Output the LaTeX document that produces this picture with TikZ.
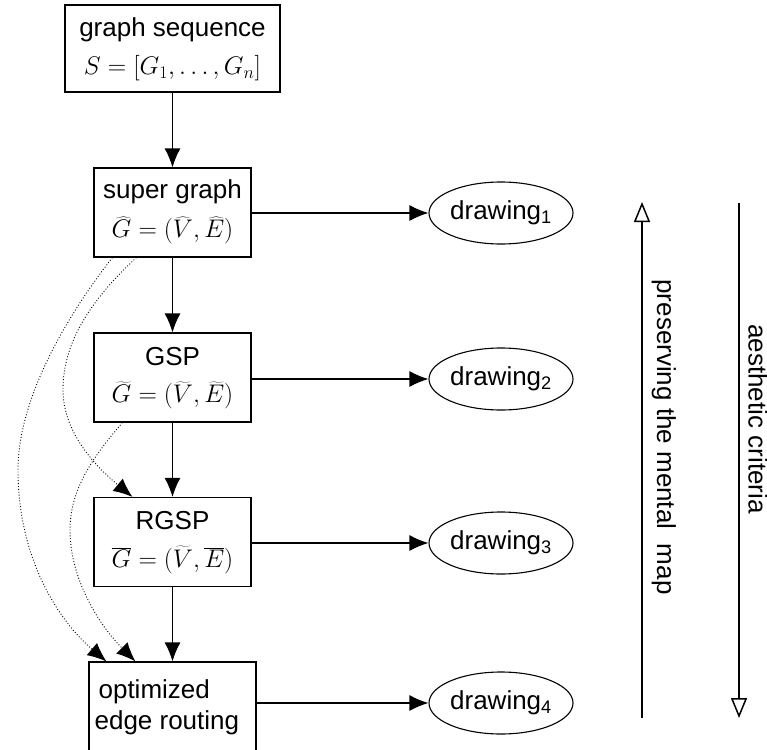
\RequirePackage{fix-cm}
\documentclass[tikz,border=0pt]{standalone}
\usepackage{fontspec}
\setmainfont{Liberation Sans}
\usetikzlibrary{arrows.meta,shapes.geometric,calc}

\begin{document}
\begin{tikzpicture}[x=1pt,y=-1pt,
  every node/.style={font=\fontsize{26}{31}\selectfont},
  box/.style={draw, line width=1.2pt, inner sep=0pt,
              minimum width=157pt, minimum height=89pt},
  drawnode/.style={draw, ellipse, line width=1.1pt, inner sep=0pt,
                   minimum width=144pt, minimum height=62pt},
  lbl/.style={inner sep=0pt, anchor=center},
  mathlbl/.style={inner sep=0pt, anchor=center, font=\fontsize{25.5}{30}\selectfont},
  flow/.style={line width=1.2pt, -{Latex[length=19pt,width=16pt]}},
  hint/.style={line width=0.9pt, dotted, -{Latex[length=19pt,width=16pt]}},
  side/.style={line width=1.3pt, -{Triangle[open,length=20pt,width=16pt,line width=1.5pt]}}
]
\useasboundingbox (0,0) rectangle (767,749);

% pipeline boxes
\node[box, minimum width=215pt, minimum height=87pt] (seq) at (172.5,48.5) {};
\node[box] (sg)   at (172.5,212.5) {};
\node[box] (gsp)  at (172.5,377.5) {};
\node[box] (rgsp) at (172.5,542) {};
\node[box, minimum width=167pt] (oer) at (172.5,706.5) {};

% box contents
\node[lbl] (seqa) at ($(seq.north)+(0,25)$) {graph sequence};
\node[mathlbl] (seqb) at ($(seq.north)+(0,64)$) {$S=[G_1,\ldots,G_n]$};
\node[lbl] (sga) at ($(sg.north)+(0,24)$) {super graph};
\node[mathlbl] (sgb) at ($(sg.north)+(0,63)$) {$\widehat{G}=(\widehat{V},\widehat{E})$};
\node[lbl] (gspa) at ($(gsp.north)+(0,24)$) {GSP};
\node[mathlbl] (gspb) at ($(gsp.north)+(0,63)$) {$\widetilde{G}=(\widetilde{V},\widetilde{E})$};
\node[lbl] (rgspa) at ($(rgsp.north)+(0,24)$) {RGSP};
\node[mathlbl] (rgspb) at ($(rgsp.north)+(0,63)$) {$\overline{G}=(\widetilde{V},\overline{E})$};
\node[inner sep=0pt, anchor=north west, align=left] (oert) at ($(oer.north west)+(6,18)$)
  {\hspace{4pt}optimized\\edge routing};

% drawings
\node[drawnode] (d1) at (501,213) {drawing\textsubscript{1}};
\node[drawnode] (d2) at (501,379) {drawing\textsubscript{2}};
\node[drawnode] (d3) at (501,543) {drawing\textsubscript{3}};
\node[drawnode] (d4) at (501,703) {drawing\textsubscript{4}};

% main flow
\draw[flow] (seq.south)  -- (sg.north);
\draw[flow] (sg.south)   -- (gsp.north);
\draw[flow] (gsp.south)  -- (rgsp.north);
\draw[flow] (rgsp.south) -- (oer.north);

\draw[flow] (sg.east |- d1)   -- (d1.west);
\draw[flow] (gsp.east |- d2)  -- (d2.west);
\draw[flow] (rgsp.east |- d3) -- (d3.west);
\draw[flow] (oer.east |- d4)  -- (d4.west);

% dotted shortcuts
\coordinate (sgL) at ($(sg.south west)+(19,0)$);
\coordinate (sgR) at ($(sg.south west)+(43,0)$);
\coordinate (gspL) at ($(gsp.south west)+(29,0)$);
\coordinate (rgspIn) at ($(rgsp.north west)+(39,0)$);
\coordinate (oerA) at ($(oer.north west)+(18,0)$);
\coordinate (oerB) at ($(oer.north west)+(47,0)$);

\draw[hint] (sgL) .. controls (65,318) and (18,400) .. (18,470)
                  .. controls (18,560) and (60,622) .. (oerA);
\draw[hint] (sgR) .. controls (82,308) and (63,350) .. (63,390)
                  .. controls (63,432) and (95,466) .. (rgspIn);
\draw[hint] (gspL) .. controls (92,458) and (70,490) .. (70,530)
                   .. controls (70,580) and (100,626) .. (oerB);

% side arrows
\coordinate (pmB) at (642,718);
\coordinate (pmT) at (642,202);
\coordinate (acT) at (739,203);
\coordinate (acB) at (739,718);
\draw[side] (pmB) -- (pmT);
\draw[side] (acT) -- (acB);
\node[rotate=-90, anchor=base, inner sep=0pt] (pmt) at (657,437) {preserving the mental\ \ map};
\node[rotate=-90, anchor=base, inner sep=0pt] (act) at (748.5,419) {aesthetic criteria};
\end{tikzpicture}
\end{document}
